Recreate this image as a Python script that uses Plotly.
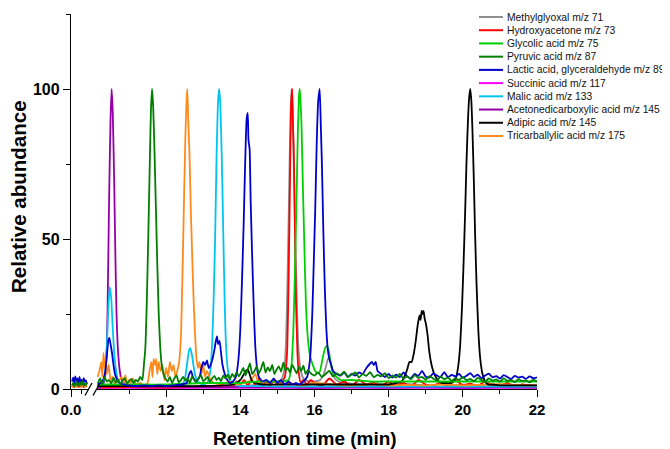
import plotly.graph_objects as go

def grid(start, step, n):
    return [round(start + step * i, 2) for i in range(n)]

# ---------------- DATA ----------------
series_names = [
    "Methylglyoxal m/z 71", "Hydroxyacetone m/z 73", "Glycolic acid m/z 75",
    "Pyruvic acid m/z 87", "Lactic acid, glyceraldehyde m/z 89", "Succinic acid m/z 117",
    "Malic acid m/z 133", "Acetonedicarboxylic acid m/z 145", "Adipic acid m/z 145",
    "Tricarballylic acid m/z 175",
]
series_colors = ["#8e8e8e", "#ff0000", "#00d000", "#007f00", "#0000cc", "#ff00ff",
                 "#00c4f0", "#9400a8", "#000000", "#ff8a1c"]

# first (broken) x segment, 0.0 .. 0.16 min
x_seg1 = grid(0.01, 0.01, 15)
blue_seg1 = [2.5, 3.8, 1.9, 4.2, 2.8, 3.5, 1.6, 4.0, 2.2, 3.1, 1.8, 3.6, 2.4, 2.9, 1.7]
green_seg1 = [1.2, 2.0, 0.8, 1.6, 2.4, 1.1, 1.9, 0.9, 2.2, 1.4, 2.6, 1.0, 1.8, 1.3, 2.1]
red_seg1 = [0.8, 1.4, 0.6, 1.1, 0.9, 1.5, 0.7, 1.2, 0.8, 1.0, 1.3, 0.6, 1.1, 0.9, 1.2]
orange_seg1 = [0.5, 1, 0.8, 1.5, 0.6, 1.2, 2, 0.8, 1, 0.6, 1.4, 0.9, 0.7, 1.1, 0.8]

# Succinic acid
x_succinic = [10.15, 12, 14, 16, 18, 20, 22]
y_succinic = [0.4, 0.3, 0.4, 0.3, 0.4, 0.3, 0.4]

# Acetonedicarboxylic acid
x_acetone = [10.15, 10.22, 10.3, 10.35, 10.4, 10.43, 10.46, 10.5, 10.53, 10.56, 10.6, 10.63, 10.66,
             10.7, 10.75, 10.8, 10.9, 11.0, 11.5, 12, 13, 14, 15, 16, 17, 18, 19, 20, 21, 22]
y_acetone = [0.6, 0.5, 1.5, 4, 14, 35, 62, 90, 100, 92, 68, 45, 26, 13, 6, 3, 1.5, 1, 0.8, 0.8,
             0.6, 0.7, 0.6, 0.5, 0.6, 0.5, 0.6, 0.5, 0.6, 0.5]

# Malic acid
x_malic = [10.15, 10.22, 10.3, 10.36, 10.4, 10.44, 10.48, 10.52, 10.56, 10.6, 10.65, 10.7, 10.8,
           11.0, 11.5, 12.0, 12.4, 12.5, 12.56, 12.62, 12.65, 12.7, 12.76, 12.82, 12.9, 13.0, 13.1,
           13.18, 13.24, 13.28, 13.32, 13.36, 13.4, 13.43, 13.46, 13.5, 13.54, 13.58, 13.62, 13.67,
           13.75, 13.85, 14.0, 14.5, 15, 16, 17, 18, 19, 20, 21, 22]
y_malic = [0.8, 1, 2, 6, 14, 27, 34, 30, 20, 12, 6, 3, 1.5, 1, 1, 1, 1.2, 3, 8, 13, 13.6, 11, 6, 3,
           2, 1.5, 2, 5, 15, 30, 50, 78, 96, 100, 95, 77, 52, 28, 13, 6, 2.5, 1.5, 1, 1, 0.8, 0.8,
           0.8, 0.8, 0.8, 0.8, 0.8, 0.8]

# Tricarballylic acid
x_tricarb = [10.15, 10.2, 10.25, 10.28, 10.31, 10.34, 10.37, 10.4, 10.45, 10.5, 10.55, 10.6, 10.7,
             10.8, 10.85, 10.9, 10.95, 11.0, 11.05, 11.1, 11.2, 11.3, 11.4, 11.5, 11.55, 11.6, 11.63,
             11.66, 11.7, 11.73, 11.76, 11.8, 11.85, 11.9, 11.95, 12.0, 12.05, 12.1, 12.15, 12.2,
             12.25, 12.3, 12.35, 12.4, 12.44, 12.48, 12.52, 12.55, 12.57, 12.6, 12.63, 12.66, 12.7,
             12.74, 12.78, 12.82, 12.86, 12.9, 12.95, 13.0, 13.05, 13.1, 13.2, 13.3, 13.5, 13.7,
             13.9, 14.1, 14.3, 14.4, 14.5, 14.7, 14.9, 15.1, 15.3, 15.5, 15.7, 16, 16.5, 17, 17.5,
             18, 18.5, 19, 19.5, 20, 20.5, 21, 21.5, 22]
y_tricarb = [4, 6, 9, 4, 12, 7, 10, 5, 8, 3, 4, 2, 2.5, 4, 2, 4.5, 1.5, 3, 2, 3.5, 1.5, 2, 1.2, 2,
             6, 9, 4, 10, 8, 10, 5, 9, 6, 8, 3, 7, 4, 9, 6, 8, 4, 6, 9, 18, 38, 62, 85, 96, 100, 88,
             78, 62, 45, 30, 18, 10, 7, 9, 5, 8, 4, 6, 3, 2, 1.5, 2.5, 1.5, 2, 3, 5, 2, 1.5, 2.5,
             1.5, 2, 1.5, 1.2, 2, 1.5, 1.2, 1.5, 1.2, 1.4, 1.2, 1.5, 1.2, 1.4, 1.6, 1.3, 1.2]

# Lactic acid, glyceraldehyde
x_lactic = [10.15, 10.22, 10.3, 10.36, 10.4, 10.44, 10.47, 10.5, 10.54, 10.58, 10.62, 10.68, 10.75,
            10.85, 11.0, 11.2, 11.4, 11.6, 11.8, 12.0, 12.2, 12.4, 12.55, 12.62, 12.67, 12.72, 12.8,
            12.9, 12.95, 13.0, 13.05, 13.1, 13.15, 13.2, 13.25, 13.3, 13.34, 13.37, 13.4, 13.44,
            13.48, 13.52, 13.58, 13.65, 13.72, 13.8, 13.88, 13.95, 14.0, 14.05, 14.09, 14.13, 14.17,
            14.2, 14.22, 14.25, 14.28, 14.32, 14.36, 14.4, 14.45, 14.5, 14.6, 14.7, 14.8, 14.9, 15.0,
            15.1, 15.2, 15.3, 15.4, 15.5, 15.6, 15.7, 15.8, 15.88, 15.94, 15.98, 16.02, 16.06, 16.1,
            16.14, 16.17, 16.2, 16.24, 16.28, 16.32, 16.36, 16.4, 16.45, 16.5, 16.6, 16.7, 16.8,
            16.9, 17.0, 17.1, 17.2, 17.3, 17.4, 17.5, 17.55, 17.6, 17.65, 17.7, 17.8, 17.9] + grid(18.0, 0.1, 41)
y_lactic = [1.5, 2, 3, 6, 11, 16, 17, 15, 12, 8, 5, 3, 2, 1.5, 1.2, 1, 1.2, 1, 1.2, 1, 1.2, 1.5, 2,
            5, 6, 4, 2.5, 4, 7, 9, 8, 9.5, 7, 8, 10, 13, 16, 17.5, 15, 16, 12, 8, 5, 3, 2, 2.5, 4,
            10, 20, 38, 55, 75, 90, 92, 83, 80, 62, 44, 28, 15, 7, 4, 2.5, 3, 2, 3.5, 2, 3, 1.5,
            2.5, 1.5, 2, 1.5, 2.5, 4, 10, 25, 42, 60, 82, 96, 100, 88, 75, 52, 33, 20, 13, 10, 8, 6,
            5, 4.5, 5.5, 4, 5, 4.5, 5.5, 5, 7, 8.5, 9, 8, 9, 6, 5, 4,
            5, 3.8, 4.8, 4, 5.5, 4.2, 3.6, 5, 4.4, 6, 4.1, 3.8, 5.2, 4.5, 4, 5.6, 3.9, 4.7, 4.2, 5,
            3.7, 4.4, 5.3, 4, 4.8, 3.6, 4.5, 5.1, 3.9, 4.3, 3.5, 4.6, 4, 3.3, 4.4, 3.8, 4.1, 3.4,
            4.2, 3.6, 3.9]

# Glycolic acid
x_glycolic = [10.15, 11, 12, 13, 14, 14.5, 15, 15.3, 15.38, 15.43, 15.47, 15.51, 15.55, 15.58, 15.6,
              15.62, 15.65, 15.69, 15.73, 15.77, 15.82, 15.88, 15.94, 16.0, 16.05, 16.1, 16.15, 16.2,
              16.25, 16.3, 16.34, 16.38, 16.42, 16.47, 16.52, 16.6, 16.7, 17, 17.5, 18, 19, 20, 21, 22]
y_glycolic = [1.5, 1.5, 1.5, 2, 2, 2.5, 2.5, 3, 8, 20, 38, 60, 85, 97, 100, 97, 88, 66, 46, 28, 17,
              11, 8.5, 6.5, 5.5, 5.2, 6, 9, 12, 14, 14.3, 13, 10, 7, 5, 4, 3, 3, 2.5, 2.5, 2.5, 2.5,
              2.5, 2.5]

# Methylglyoxal
x_methyl = [10.15, 11, 12, 13, 13.5, 14, 14.5, 14.8, 15.0, 15.1, 15.18, 15.23, 15.27, 15.31, 15.35,
            15.38, 15.41, 15.45, 15.49, 15.53, 15.57, 15.62, 15.68, 15.75, 15.85, 16.0, 16.15, 16.25,
            16.32, 16.36, 16.39, 16.43, 16.48, 16.55, 16.65, 16.8, 17, 17.3, 17.6, 17.9, 18.2, 18.5,
            18.8, 19.1, 19.4, 19.7, 20, 20.3, 20.6, 20.9, 21.2, 21.5, 21.8, 22]
y_methyl = [0.8, 0.8, 0.8, 0.8, 1, 1, 1.5, 2, 2.5, 3, 6, 15, 35, 62, 90, 100, 92, 70, 46, 26, 13, 7,
            4, 3, 2.5, 2.5, 3, 5, 8, 10, 10.3, 9, 6, 3.5, 2.5, 2, 1.8, 1.5, 2, 1.6, 1.3, 1.7, 1.4,
            1.2, 1.6, 1.3, 1.5, 1.2, 1.4, 1.1, 1.3, 1.2, 1.4, 1.2]

# Hydroxyacetone
x_hydroxy = [10.15, 11, 12, 13, 13.5, 13.8, 13.9, 14.0, 14.1, 14.2, 14.3, 14.4, 14.5, 14.6, 14.7,
             14.8, 14.9, 15.0, 15.1, 15.2, 15.26, 15.3, 15.34, 15.37, 15.4, 15.42, 15.44, 15.47,
             15.5, 15.54, 15.58, 15.63, 15.7, 15.8, 15.9] + grid(16.0, 0.2, 31)
y_hydroxy = [0.5, 0.6, 0.5, 0.8, 0.7, 1, 2.5, 1.5, 3, 1.2, 2.8, 1.5, 3.5, 1.2, 2.5, 1, 3, 1.5, 2, 4,
             12, 35, 70, 95, 100, 88, 80, 55, 30, 12, 5, 2, 3, 1.5, 3,
             2, 1, 3.5, 1.5, 2.5, 1, 3, 1.5, 2, 1, 2.5, 1.2, 2, 0.8, 3, 1.5, 1, 2.2, 1, 3, 1.2, 1.8,
             1, 2.5, 1.2, 1, 2, 0.8, 1.5, 1.2, 1]

# Adipic acid
x_adipic = [10.15, 11, 12, 13, 13.8, 14.0, 14.1, 14.15, 14.2, 14.25, 14.3, 14.4, 14.6, 15, 15.5, 16,
            16.5, 17, 17.5, 18, 18.2, 18.35, 18.42, 18.5, 18.56, 18.62, 18.68, 18.73, 18.78, 18.83,
            18.86, 18.89, 18.91, 18.94, 18.97, 19.0, 19.05, 19.09, 19.14, 19.2, 19.27, 19.35, 19.45,
            19.55, 19.65, 19.75, 19.82, 19.88, 19.93, 19.98, 20.02, 20.06, 20.1, 20.14, 20.17, 20.2,
            20.23, 20.26, 20.3, 20.33, 20.37, 20.42, 20.47, 20.53, 20.6, 20.68, 20.8, 21, 21.3,
            21.6, 22]
y_adipic = [1, 1, 1, 1, 1.5, 3, 5, 6, 6.5, 5, 3, 2, 1.5, 1.5, 1.5, 1.5, 1.5, 1.5, 1.5, 1.5, 2, 2.5,
            4, 6.5, 9, 9, 12, 16, 21, 24.5, 23, 26, 25, 26, 23.5, 22, 18, 13, 9, 6, 4, 2.5, 2, 2, 2,
            2.5, 4, 8, 15, 28, 42, 58, 76, 90, 97, 100, 96, 86, 68, 52, 35, 19, 10, 5, 2.5, 1.5, 1.5,
            1.2, 1.2, 1.2, 1.2]

# Pyruvic acid
x_pyruvic = (grid(10.16, 0.06, 21)
             + [11.4, 11.44, 11.48, 11.52, 11.56, 11.59, 11.62, 11.65, 11.68, 11.72, 11.76, 11.8,
                11.84, 11.88, 11.93, 11.98]
             + grid(12.04, 0.06, 33) + grid(14.02, 0.06, 33) + grid(16.0, 0.1, 61))
y_pyruvic = [2, 3.5, 1.5, 4, 2.5, 3, 1.8, 3.8, 2.2, 3.2, 1.5, 2.8, 3.6, 1.9, 2.6, 3.4, 2, 3, 2.5, 4, 3,
             8, 14, 30, 52, 76, 93, 100, 94, 82, 62, 42, 25, 14, 8, 5, 3.5,
             2.5, 4, 2, 3.5, 4.5, 2.2, 3, 4, 2.8, 3.6, 2, 4.2, 3, 2.5, 3.8, 4.6, 2.6, 3.3, 4, 2.4,
             3.5, 4.4, 3, 3.8, 2.6, 4.5, 3.5, 4.8, 3.2, 5, 4, 5.5, 4.2,
             5.5, 7, 4.5, 6.5, 8.5, 5, 6, 7.5, 5.2, 6.8, 9, 5.5, 7.2, 6, 8, 5, 6.5, 7.5, 5.8, 8.8,
             6.2, 7, 5.5, 8, 6.6, 5.2, 7.4, 6, 7.8, 5, 6.3, 5.5, 4.8,
             4.5, 5.5, 4, 5, 6, 4.2, 5.2, 4.6, 5.8, 4, 4.8, 5.5, 3.8, 5, 4.4, 5.6, 3.9, 4.7, 4.2,
             5.3, 3.6, 4.5, 3.8, 5, 3.5, 4.2, 3.2, 4.6, 3.7, 4, 3.1, 4.3, 3.5, 2.8, 4.1, 3.3, 3.8,
             2.7, 3.6, 3, 4, 2.9, 3.4, 2.6, 3.7, 3, 2.5, 3.5, 2.8, 3.2, 2.4, 3.6, 2.7, 3, 2.3, 3.3,
             2.6, 2.9, 2.2, 3.1, 2.5]

x_ticks = [12, 14, 16, 18, 20, 22]
x_minor = [11, 13, 15, 17, 19, 21]
y_ticks = [0, 50, 100]
y_minor = [25, 75, 125]

# ---------------- FIGURE ----------------
for nm, xs, ys in [("succ", x_succinic, y_succinic), ("acet", x_acetone, y_acetone),
                   ("mal", x_malic, y_malic), ("tri", x_tricarb, y_tricarb),
                   ("lac", x_lactic, y_lactic), ("gly", x_glycolic, y_glycolic),
                   ("met", x_methyl, y_methyl), ("hyd", x_hydroxy, y_hydroxy),
                   ("adi", x_adipic, y_adipic), ("pyr", x_pyruvic, y_pyruvic)]:
    assert len(xs) == len(ys), (nm, len(xs), len(ys))

# page body has an 8px margin: figure is shifted by OFF, so shrink it accordingly
OFF = 8
FIG_W, FIG_H = 670 - OFF, 449 - OFF
# plot area in reference-window pixels
L, R, T, B = 71, 537, 14, 389


def pxx(p):
    return (p - L) / (R - L)


def pxy(p):
    return (B - p) / (B - T)


FONT = "Liberation Sans, Arial, sans-serif"
col = dict(zip(series_names, series_colors))

fig = go.Figure()


def add(x, y, name, axis):
    fig.add_trace(go.Scatter(x=x, y=y, mode="lines", xaxis=axis, yaxis="y", showlegend=False,
                             hoverinfo="skip",
                             line=dict(color=col[name], width=1.8, shape="spline", smoothing=0.5)))


# first segment
add(x_seg1, red_seg1, series_names[1], "x")
add(x_seg1, orange_seg1, series_names[9], "x")
add(x_seg1, blue_seg1, series_names[4], "x")
add(x_seg1, green_seg1, series_names[3], "x")

# main segment (bottom to top)
add(x_succinic, y_succinic, series_names[5], "x2")
add(x_methyl, y_methyl, series_names[0], "x2")
add(x_hydroxy, y_hydroxy, series_names[1], "x2")
add(x_acetone, y_acetone, series_names[7], "x2")
add(x_malic, y_malic, series_names[6], "x2")
add(x_tricarb, y_tricarb, series_names[9], "x2")
add(x_adipic, y_adipic, series_names[8], "x2")
add(x_glycolic, y_glycolic, series_names[2], "x2")
add(x_lactic, y_lactic, series_names[4], "x2")
add(x_pyruvic, y_pyruvic, series_names[3], "x2")

tickfont_x = dict(family=FONT, size=15, color="black", weight="bold")
tickfont_y = dict(family=FONT, size=16, color="black", weight="bold")
common = dict(showline=True, linecolor="black", linewidth=1.3, ticks="outside", ticklen=7,
              tickwidth=1.3, tickcolor="black", showgrid=False, zeroline=False, fixedrange=True)
minor_common = dict(ticks="outside", ticklen=4, tickwidth=1.3, tickcolor="black", showgrid=False)

x2_start = 12 + (97 - 166) / 37.0

fig.update_layout(
    width=FIG_W, height=FIG_H,
    margin=dict(l=L - OFF, r=670 - R, t=T - OFF, b=449 - B),
    paper_bgcolor="white", plot_bgcolor="white", showlegend=False,
    xaxis=dict(domain=[0, pxx(88)], range=[0, 0.16], anchor="y", tickmode="array",
               tickvals=[0], ticktext=["0.0"], tickfont=tickfont_x,
               minor=dict(tickmode="array", tickvals=[0.1], **minor_common), **common),
    xaxis2=dict(domain=[pxx(97), 1], range=[x2_start, 22], anchor="y", tickmode="array",
                tickvals=x_ticks, ticktext=[str(v) for v in x_ticks], tickfont=tickfont_x,
                minor=dict(tickmode="array", tickvals=x_minor, **minor_common), **common),
    yaxis=dict(domain=[0, 1], range=[0, 125], anchor="x", tickmode="array",
               tickvals=y_ticks, ticktext=[str(v) for v in y_ticks], tickfont=tickfont_y,
               minor=dict(tickmode="array", tickvals=y_minor, **minor_common), **common),
)

shapes = []
# axis break marks
for x0p, x1p in [(85, 92), (93, 100)]:
    shapes.append(dict(type="line", xref="paper", yref="paper",
                       x0=pxx(x0p), y0=pxy(395.5), x1=pxx(x1p), y1=pxy(383),
                       line=dict(color="black", width=1.3)))

annotations = [
    dict(text="<b>Retention time (min)</b>", xref="paper", yref="paper", x=pxx(305), y=pxy(438),
         xanchor="center", yanchor="middle", showarrow=False,
         font=dict(family=FONT, size=19, color="black")),
    dict(text="<b>Relative abundance</b>", xref="paper", yref="paper", x=pxx(18), y=pxy(197),
         xanchor="center", yanchor="middle", showarrow=False, textangle=-90,
         font=dict(family=FONT, size=20.5, color="black")),
]

# manual legend
for i, (nm, c) in enumerate(zip(series_names, series_colors)):
    yy = 17 + 13.22 * i
    shapes.append(dict(type="line", xref="paper", yref="paper",
                       x0=pxx(479), x1=pxx(503), y0=pxy(yy), y1=pxy(yy),
                       line=dict(color=c, width=2)))
    annotations.append(dict(text=nm, xref="paper", yref="paper", x=pxx(505), y=pxy(yy),
                            xanchor="left", yanchor="middle", showarrow=False,
                            font=dict(family=FONT, size=10.3, color="#111111")))

fig.update_layout(shapes=shapes, annotations=annotations)

fig.write_html("out.html")
